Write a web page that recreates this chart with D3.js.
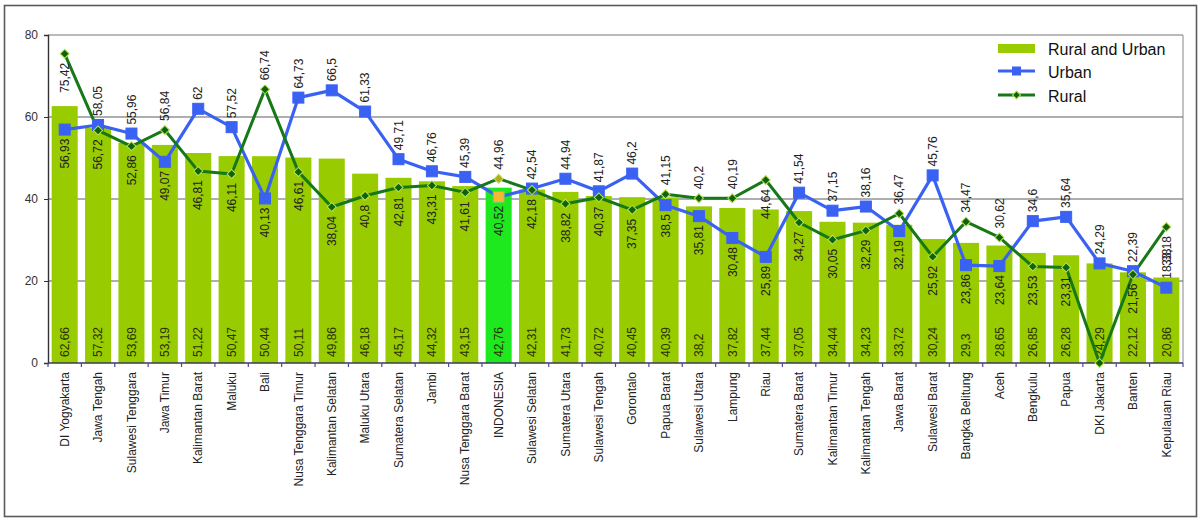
<!DOCTYPE html>
<html>
<head>
<meta charset="utf-8">
<script src="https://cdn.jsdelivr.net/npm/d3@7"></script>
<style>
  html, body { margin: 0; padding: 0; background: #fff; }
  svg { display: block; font-family: "Liberation Sans", Arial, sans-serif; }
</style>
</head>
<body>
<svg id="chart" width="1200" height="518"></svg>
<script>
// Provinces, sorted by the combined (rural and urban) value
const categories = [
  "DI Yogyakarta", "Jawa Tengah", "Sulawesi Tenggara", "Jawa Timur", "Kalimantan Barat",
  "Maluku", "Bali", "Nusa Tenggara Timur", "Kalimantan Selatan", "Maluku Utara",
  "Sumatera Selatan", "Jambi", "Nusa Tenggara Barat", "INDONESIA", "Sulawesi Selatan",
  "Sumatera Utara", "Sulawesi Tengah", "Gorontalo", "Papua Barat", "Sulawesi Utara",
  "Lampung", "Riau", "Sumatera Barat", "Kalimantan Timur", "Kalimantan Tengah",
  "Jawa Barat", "Sulawesi Barat", "Bangka Belitung", "Aceh", "Bengkulu",
  "Papua", "DKI Jakarta", "Banten", "Kepulauan Riau"
];

const ruralAndUrban = [
  62.66, 57.32, 53.69, 53.19, 51.22, 50.47, 50.44, 50.11, 49.86, 46.18,
  45.17, 44.32, 43.15, 42.76, 42.31, 41.73, 40.72, 40.45, 40.39, 38.2,
  37.82, 37.44, 37.05, 34.44, 34.23, 33.72, 30.24, 29.3, 28.65, 26.85,
  26.28, 24.29, 22.12, 20.86
];

const urban = [
  56.93, 58.05, 55.96, 49.07, 62, 57.52, 40.13, 64.73, 66.5, 61.33,
  49.71, 46.76, 45.39, 40.52, 42.54, 44.94, 41.87, 46.2, 38.5, 35.81,
  30.48, 25.89, 41.54, 37.15, 38.16, 32.19, 45.76, 23.86, 23.64, 34.6,
  35.64, 24.29, 22.39, 18.38
];

const rural = [
  75.42, 56.72, 52.86, 56.84, 46.81, 46.11, 66.74, 46.61, 38.04, 40.8,
  42.81, 43.31, 41.61, 44.96, 42.18, 38.82, 40.37, 37.35, 41.15, 40.2,
  40.19, 44.64, 34.27, 30.05, 32.29, 36.47, 25.92, 34.47, 30.62, 23.53,
  23.31, 0, 21.56, 33.18
];

const yTicks = [0, 20, 40, 60, 80];
const highlight = "INDONESIA";

// Label side overrides (default: higher value above its point, lower below)
const labelSideOverride = {
  "DI Yogyakarta": { rural: "below", urban: "below" },
  "Riau": { rural: "below" },
  "Kepulauan Riau": { rural: "below", urban: "above" }
};

const fmt = v => String(v).replace(".", ",");

const svg = d3.select("#chart");
const plot = { left: 48, right: 1183, top: 35, bottom: 363 };

const colors = {
  bar: "#99cc00",
  barHighlight: "#1ee81e",
  urban: "#3a62f2",
  rural: "#167816",
  ruralEdge: "#b9e24c",
  grid: "#5e5e5e",
  text: "#222"
};

// outer frame
svg.append("rect")
  .attr("x", 4.5).attr("y", 5.5).attr("width", 1192).attr("height", 511)
  .attr("fill", "#fff").attr("stroke", "#5a5a5a").attr("stroke-width", 1.6);

const x = d3.scaleBand().domain(categories)
  .range([plot.left, plot.right]).paddingInner(0.22).paddingOuter(0.11);
const y = d3.scaleLinear().domain([0, 80]).range([plot.bottom, plot.top]);
const cx = c => x(c) + x.bandwidth() / 2;

// plot area border (top and right)
svg.append("line").attr("x1", plot.left).attr("x2", plot.right)
  .attr("y1", plot.top).attr("y2", plot.top).attr("stroke", "#777").attr("stroke-width", 1.2);
svg.append("line").attr("x1", plot.right).attr("x2", plot.right)
  .attr("y1", plot.top).attr("y2", plot.bottom).attr("stroke", "#888").attr("stroke-width", 1);

// horizontal gridlines
svg.append("g").selectAll("line")
  .data(yTicks.filter(t => t > 0 && t < 80))
  .join("line")
  .attr("x1", plot.left).attr("x2", plot.right)
  .attr("y1", d => y(d)).attr("y2", d => y(d))
  .attr("stroke", colors.grid).attr("stroke-width", 1.2);

// bars
const data = categories.map((c, i) => ({
  c, total: ruralAndUrban[i], urban: urban[i], rural: rural[i]
}));

svg.append("g").selectAll("rect")
  .data(data)
  .join("rect")
  .attr("x", d => x(d.c))
  .attr("y", d => y(d.total))
  .attr("width", x.bandwidth())
  .attr("height", d => y(0) - y(d.total))
  .attr("fill", d => d.c === highlight ? colors.barHighlight : colors.bar);

// y axis
const yAxis = svg.append("g")
  .attr("transform", `translate(${plot.left},0)`)
  .call(d3.axisLeft(y).tickValues(yTicks).tickSize(4).tickPadding(6).tickFormat(d3.format("d")));
yAxis.select(".domain").attr("stroke", "#333").attr("stroke-width", 1.4);
yAxis.selectAll(".tick line").attr("stroke", "#333");
yAxis.selectAll(".tick text").attr("font-size", 12).attr("fill", "#333")
  .attr("font-family", "Liberation Sans, Arial, sans-serif");

// x axis with ticks between categories
const xAxisG = svg.append("g").attr("transform", `translate(0,${plot.bottom})`);
xAxisG.append("line").attr("x1", plot.left).attr("x2", plot.right)
  .attr("stroke", "#3a3a5a").attr("stroke-width", 1.4);
const boundaries = categories.map(c => x(c) - x.step() * x.paddingInner() / 2)
  .concat([plot.right]);
xAxisG.selectAll("line.tk").data(boundaries).join("line")
  .attr("class", "tk")
  .attr("x1", d => d).attr("x2", d => d).attr("y1", 0).attr("y2", 4)
  .attr("stroke", "#4a4a9a").attr("stroke-width", 1.2);
xAxisG.selectAll("text").data(categories).join("text")
  .attr("transform", d => `translate(${cx(d)},9) rotate(-90)`)
  .attr("dy", "0.35em")
  .attr("text-anchor", "end")
  .attr("font-size", 12)
  .attr("fill", colors.text)
  .text(d => d);

// bar value labels at the base of each bar
svg.append("g").selectAll("text")
  .data(data)
  .join("text")
  .attr("transform", d => `translate(${cx(d.c)},${y(0) - 6}) rotate(-90)`)
  .attr("dy", "0.35em")
  .attr("text-anchor", "start")
  .attr("font-size", 12)
  .attr("fill", "#2a3300")
  .text(d => fmt(d.total));

// lines
const lineFor = key => d3.line().x(d => cx(d.c)).y(d => y(d[key]));

svg.append("path").datum(data)
  .attr("d", lineFor("urban"))
  .attr("fill", "none").attr("stroke", colors.urban).attr("stroke-width", 3.2)
  .attr("stroke-linejoin", "round");

svg.append("path").datum(data)
  .attr("d", lineFor("rural"))
  .attr("fill", "none").attr("stroke", colors.rural).attr("stroke-width", 3)
  .attr("stroke-linejoin", "round");

// markers: squares for urban
svg.append("g").selectAll("rect")
  .data(data)
  .join("rect")
  .attr("x", d => cx(d.c) - 5.5).attr("y", d => y(d.urban) - 5.5)
  .attr("width", 11).attr("height", 11)
  .attr("fill", d => d.c === highlight ? "#f7b733" : colors.urban)
  .attr("stroke", d => d.c === highlight ? "#58d858" : colors.urban)
  .attr("stroke-width", 1);

// markers: diamonds (rotated squares) for rural
svg.append("g").selectAll("rect")
  .data(data)
  .join("rect")
  .attr("x", -3.2).attr("y", -3.2).attr("width", 6.4).attr("height", 6.4)
  .attr("transform", d => `translate(${cx(d.c)},${y(d.rural)}) rotate(45)`)
  .attr("fill", d => d.c === highlight ? "#b9a624" : "#0f620f")
  .attr("stroke", colors.ruralEdge).attr("stroke-width", 1);

// line value labels
function side(d, key) {
  const o = labelSideOverride[d.c];
  if (o && o[key]) return o[key];
  const other = key === "urban" ? d.rural : d.urban;
  return d[key] >= other ? "above" : "below";
}

const lineLabels = [];
data.forEach(d => {
  ["urban", "rural"].forEach(key => {
    if (d[key] === 0) return;
    lineLabels.push({ c: d.c, key, v: d[key], side: side(d, key) });
  });
});

svg.append("g").selectAll("text")
  .data(lineLabels)
  .join("text")
  .attr("transform", d => {
    const py = y(d.v) + (d.side === "above" ? -9 : 9);
    return `translate(${cx(d.c)},${py}) rotate(-90)`;
  })
  .attr("dy", "0.35em")
  .attr("text-anchor", d => d.side === "above" ? "start" : "end")
  .attr("font-size", 12)
  .attr("fill", colors.text)
  .text(d => fmt(d.v));

// legend
const legend = svg.append("g").attr("transform", "translate(998,0)");
legend.append("rect").attr("x", 0).attr("y", 44).attr("width", 37).attr("height", 9)
  .attr("fill", colors.bar);
legend.append("line").attr("x1", 0).attr("x2", 37).attr("y1", 71).attr("y2", 71)
  .attr("stroke", colors.urban).attr("stroke-width", 3);
legend.append("rect").attr("x", 14).attr("y", 66.5).attr("width", 9).attr("height", 9)
  .attr("fill", colors.urban);
legend.append("line").attr("x1", 0).attr("x2", 37).attr("y1", 95).attr("y2", 95)
  .attr("stroke", colors.rural).attr("stroke-width", 3);
legend.append("rect").attr("x", -2.8).attr("y", -2.8).attr("width", 5.6).attr("height", 5.6)
  .attr("transform", "translate(18.5,95) rotate(45)")
  .attr("fill", "#0f620f").attr("stroke", colors.ruralEdge).attr("stroke-width", 1);

const legendItems = ["Rural and Urban", "Urban", "Rural"];
legend.selectAll("text.lg").data(legendItems).join("text")
  .attr("class", "lg")
  .attr("x", 50)
  .attr("y", (d, i) => [49, 72, 96][i])
  .attr("dy", "0.35em")
  .attr("font-size", 16)
  .attr("fill", "#111")
  .text(d => d);
</script>
</body>
</html>
